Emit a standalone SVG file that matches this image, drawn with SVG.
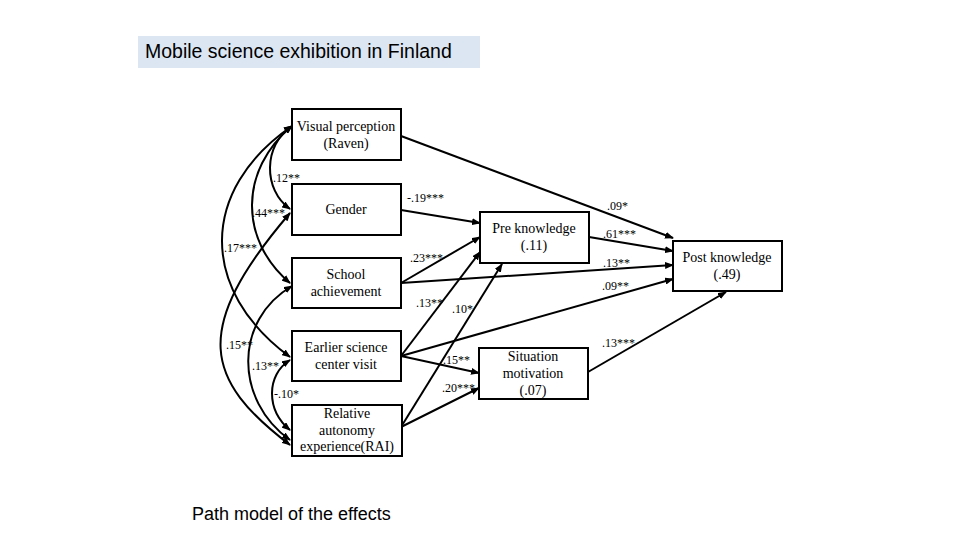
<svg xmlns="http://www.w3.org/2000/svg" width="960" height="540" viewBox="0 0 960 540">
<style>
.box{fill:#fff;stroke:#000;stroke-width:2}
.t{font-family:"Liberation Serif","Times New Roman",serif;font-size:14px;fill:#000;text-anchor:middle}
.lb{font-family:"Liberation Serif","Times New Roman",serif;font-size:12px;fill:#000}
.c{fill:none;stroke:#000;stroke-width:2;marker-end:url(#ah)}
.d{fill:none;stroke:#000;stroke-width:2;marker-start:url(#ah);marker-end:url(#ah)}
.title{font-family:"Liberation Sans",Arial,sans-serif;fill:#000}
</style>
<defs>
<marker id="ah" markerUnits="userSpaceOnUse" markerWidth="9" markerHeight="7" refX="8" refY="3.5" orient="auto-start-reverse">
<path d="M0,0 L9,3.5 L0,7 z" fill="#000"/>
</marker>
</defs>
<rect width="960" height="540" fill="#fff"/>
<g id="title">
<rect x="138" y="36" width="342" height="32" fill="#dce6f2"/>
<text class="title" x="145" y="58" font-size="19.5">Mobile science exhibition in Finland</text>
</g>
<g id="caption">
<text class="title" x="192" y="520" font-size="18">Path model of the effects</text>
</g>
<g id="connectors">
<path class="c" d="M401,136 L673,238"/>
<path class="c" d="M401,210 L480,223"/>
<path class="c" d="M401,283 L480,237"/>
<path class="c" d="M401,283 L673,265"/>
<path class="c" d="M401,356 L480,252"/>
<path class="c" d="M401,427 L502,264"/>
<path class="c" d="M401,356 L479,373"/>
<path class="c" d="M401,427 L479,388"/>
<path class="c" d="M401,356 L673,279"/>
<path class="c" d="M589,237 L673,251"/>
<path class="c" d="M588,372 L726,292"/>
<path class="d" d="M292,126 C263,145 263,190 290,209"/>
<path class="d" d="M292,126 C239,170 239,240 290,283"/>
<path class="d" d="M292,126 C199,190 199,290 290,357"/>
<path class="d" d="M290,213 C190,330 205,380 290,445"/>
<path class="d" d="M292,286 C234,320 234,400 290,440"/>
<path class="d" d="M290,360 C266,375 266,410 290,430"/>
</g>
<g id="labels">
<text class="lb" x="273" y="182">.12**</text>
<text class="lb" x="252" y="217">.44***</text>
<text class="lb" x="224" y="252">.17***</text>
<text class="lb" x="226" y="349">.15**</text>
<text class="lb" x="252" y="370">.13**</text>
<text class="lb" x="274" y="398">-.10*</text>
<text class="lb" x="407" y="202">-.19***</text>
<text class="lb" x="410" y="262">.23***</text>
<text class="lb" x="416" y="307">.13**</text>
<text class="lb" x="452" y="313">.10*</text>
<text class="lb" x="443" y="364">.15**</text>
<text class="lb" x="442" y="392">.20***</text>
<text class="lb" x="607" y="210">.09*</text>
<text class="lb" x="603" y="238">.61***</text>
<text class="lb" x="603" y="267">.13**</text>
<text class="lb" x="602" y="290">.09**</text>
<text class="lb" x="602" y="347">.13***</text>
</g>
<g id="visual">
<rect class="box" x="292" y="109" width="109" height="51"/>
<text class="t" x="346" y="131">Visual perception</text>
<text class="t" x="346" y="148">(Raven)</text>
</g>
<g id="gender">
<rect class="box" x="292" y="184" width="109" height="51"/>
<text class="t" x="346" y="214">Gender</text>
</g>
<g id="school">
<rect class="box" x="292" y="258" width="109" height="50"/>
<text class="t" x="346" y="279">School</text>
<text class="t" x="346" y="296">achievement</text>
</g>
<g id="earlier">
<rect class="box" x="292" y="331" width="109" height="50"/>
<text class="t" x="346" y="352">Earlier science</text>
<text class="t" x="346" y="369">center visit</text>
</g>
<g id="relative">
<rect class="box" x="292" y="405" width="110" height="51"/>
<text class="t" x="347" y="418">Relative</text>
<text class="t" x="347" y="435">autonomy</text>
<text class="t" x="347" y="451">experience(RAI)</text>
</g>
<g id="pre">
<rect class="box" x="480" y="212" width="109" height="51"/>
<text class="t" x="534" y="233">Pre knowledge</text>
<text class="t" x="534" y="250">(.11)</text>
</g>
<g id="situation">
<rect class="box" x="479" y="348" width="109" height="51"/>
<text class="t" x="533" y="361">Situation</text>
<text class="t" x="533" y="378">motivation</text>
<text class="t" x="533" y="395">(.07)</text>
</g>
<g id="post">
<rect class="box" x="673" y="241" width="109" height="50"/>
<text class="t" x="727" y="262">Post knowledge</text>
<text class="t" x="727" y="279">(.49)</text>
</g>
</svg>
